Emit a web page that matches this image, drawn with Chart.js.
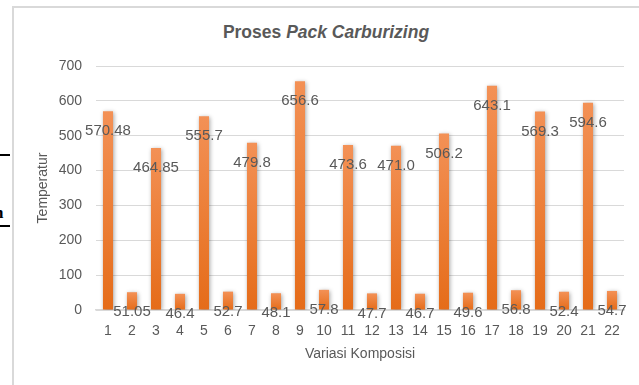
<!DOCTYPE html>
<html>
<head>
<meta charset="utf-8">
<title>Proses Pack Carburizing</title>
<script src="https://cdn.jsdelivr.net/npm/chart.js"></script>
<style>
  body { margin: 0; background: #fff; }
  #wrap { position: relative; width: 639px; height: 385px; overflow: hidden; font-family: "Liberation Sans", Arial, sans-serif; }
  #frame { position: absolute; left: 12px; top: 6px; width: 700px; height: 420px; border-left: 2px solid #d9d9d9; border-top: 2px solid #d9d9d9; }
  #title { position: absolute; left: 0; top: 22px; width: 652px; text-align: center; font-weight: bold; font-size: 17.5px; color: #595959; }
  .mark { position: absolute; left: 0; width: 10px; height: 2px; background: #000; }
  #stray { position: absolute; left: -6px; top: 203px; font: bold 17px "Liberation Serif", serif; color: #000; }
  canvas { position: absolute; left: 0; top: 0; }
</style>
</head>
<body>
<div id="wrap">
  <div class="mark" style="top:154px"></div>
  <div id="stray">n</div>
  <div class="mark" style="top:225px"></div>
  <div id="frame"></div>
  <div id="title">Proses <i>Pack Carburizing</i></div>
  <canvas id="tempChart" width="639" height="385"></canvas>
</div>

<script>
  const categories = ["1", "2", "3", "4", "5", "6", "7", "8", "9", "10", "11",
    "12", "13", "14", "15", "16", "17", "18", "19", "20", "21", "22"];
  const temperatures = [570.48, 51.05, 464.85, 46.4, 555.7, 52.7, 479.8, 48.1, 656.6, 57.8, 473.6,
    47.7, 471.0, 46.7, 506.2, 49.6, 643.1, 56.8, 569.3, 52.4, 594.6, 54.7];
  const valueLabels = ["570.48", "51.05", "464.85", "46.4", "555.7", "52.7", "479.8", "48.1", "656.6", "57.8", "473.6",
    "47.7", "471.0", "46.7", "506.2", "49.6", "643.1", "56.8", "569.3", "52.4", "594.6", "54.7"];
  const yMin = 0, yMax = 700, yStep = 100;

  const textGray = "#595959";
  const font = "'Liberation Sans', Arial, sans-serif";

  // each bar gets its own light-to-dark orange gradient
  function barFill(context) {
    const chart = context.chart;
    const area = chart.chartArea;
    if (!area || context.type !== "data") return "#ED7D31";
    const top = chart.scales.y.getPixelForValue(context.raw);
    const g = chart.ctx.createLinearGradient(0, top, 0, area.bottom);
    g.addColorStop(0, "#F39156");
    g.addColorStop(1, "#E56C19");
    return g;
  }

  const barShadow = {
    id: "barShadow",
    beforeDatasetDraw(chart) {
      const ctx = chart.ctx;
      ctx.save();
      ctx.shadowColor = "rgba(0,0,0,0.35)";
      ctx.shadowBlur = 4;
      ctx.shadowOffsetX = 1;
      ctx.shadowOffsetY = 1;
    },
    afterDatasetDraw(chart) {
      chart.ctx.restore();
    }
  };

  const valueLabelPlugin = {
    id: "valueLabels",
    afterDatasetsDraw(chart) {
      const ctx = chart.ctx;
      const meta = chart.getDatasetMeta(0);
      ctx.save();
      ctx.font = "15px " + font;
      ctx.fillStyle = textGray;
      ctx.textAlign = "center";
      ctx.textBaseline = "middle";
      meta.data.forEach((bar, i) => {
        ctx.fillText(valueLabels[i], bar.x, bar.y + 20);
      });
      ctx.restore();
    }
  };

  new Chart(document.getElementById("tempChart"), {
    type: "bar",
    data: {
      labels: categories,
      datasets: [{
        label: "Temperatur",
        data: temperatures,
        backgroundColor: barFill,
        borderWidth: 0,
        categoryPercentage: 1,
        barPercentage: 0.42
      }]
    },
    options: {
      responsive: false,
      animation: false,
      devicePixelRatio: 1,
      layout: { padding: { left: 30, right: 15, top: 66, bottom: 0 } },
      plugins: {
        legend: { display: false },
        tooltip: { enabled: false }
      },
      scales: {
        x: {
          grid: { display: false, drawTicks: false },
          border: { color: "#d9d9d9", width: 1.5 },
          ticks: { color: textGray, font: { family: font, size: 14 }, padding: 13, maxRotation: 0, autoSkip: false },
          title: { display: true, text: "Variasi Komposisi", color: textGray, font: { family: font, size: 14 }, padding: { top: 0, bottom: 22 } },
          afterFit: s => { s.height = 75; }
        },
        y: {
          min: yMin,
          max: yMax,
          grid: { color: "#d9d9d9", lineWidth: 1, drawTicks: false },
          border: { display: false },
          ticks: { stepSize: yStep, color: textGray, font: { family: font, size: 14 }, padding: 14 },
          title: { display: true, text: "Temperatur", color: textGray, font: { family: font, size: 14 }, padding: { top: 5, bottom: 0 } },
          afterFit: s => { s.width = 66; }
        }
      }
    },
    plugins: [barShadow, valueLabelPlugin]
  });
</script>
</body>
</html>
